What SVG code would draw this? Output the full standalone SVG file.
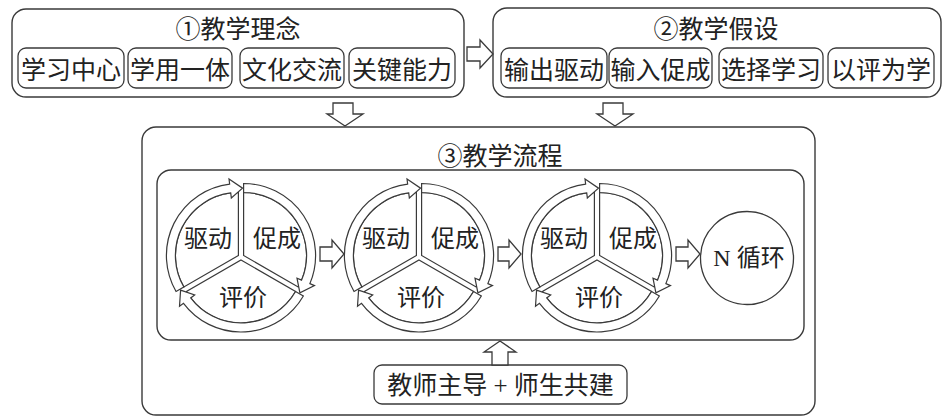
<svg xmlns="http://www.w3.org/2000/svg" width="945" height="417" viewBox="0 0 945 417">
<style>
.box{fill:#fff;stroke:#3a3a3a;stroke-width:1.4}
.sb{fill:#fff;stroke:#3a3a3a;stroke-width:1.3}
.ln{fill:#fff;stroke:#3a3a3a;stroke-width:1.2;stroke-linejoin:miter}
.t{font-family:"Liberation Serif","Noto Sans CJK SC",serif;font-size:25px;fill:#222;text-anchor:middle}
.s{font-size:24px}
.cj{font-family:"Noto Sans CJK SC",sans-serif}
.arr{fill:#fff;stroke:#3a3a3a;stroke-width:1.3;stroke-linejoin:miter}
</style>
<defs>
<g id="cyc">
<path class="ln" d="M -2.60,-1.50 L -57.16,30.00 A 63 63 0 0 1 -2.60,-64.50 Z"/>
<path class="ln" d="M 2.60,-1.50 L 2.60,-64.50 A 63 63 0 0 1 57.16,30.00 Z"/>
<path class="ln" d="M 0,3 L 54.56,34.50 A 63 63 0 0 1 -54.56,34.50 Z"/>
<path class="ln" d="M -64.95,34.50 A 72 72 0 0 1 -11.37,-72.96 L -11.98,-77.93 L 1.52,-68.87 L -9.67,-59.07 L -10.28,-64.03 A 63 63 0 0 0 -57.16,30.00 Z"/>
<path class="ln" d="M 2.60,-73.50 A 72 72 0 0 1 68.87,26.63 L 73.48,28.59 L 58.89,35.76 L 55.99,21.16 L 60.59,23.12 A 63 63 0 0 0 2.60,-64.50 Z"/>
<path class="ln" d="M 62.35,39.00 A 72 72 0 0 1 -57.50,46.33 L -61.50,49.34 L -60.41,33.12 L -46.32,37.91 L -50.31,40.91 A 63 63 0 0 0 54.56,34.50 Z"/>
</g>
</defs>
<rect width="945" height="417" fill="#fff"/>

<g id="concept">
<rect class="box" x="12" y="9" width="452" height="88" rx="14"/>
<text class="t" x="238" y="37.5"><tspan class="cj">①</tspan>教学理念</text>
</g>
<g id="c1"><rect class="sb" x="18" y="48" width="106" height="40" rx="8"/><text class="t" x="71" y="79">学习中心</text></g>
<g id="c2"><rect class="sb" x="128" y="48" width="104" height="40" rx="8"/><text class="t" x="180" y="79">学用一体</text></g>
<g id="c3"><rect class="sb" x="240" y="48" width="104" height="40" rx="8"/><text class="t" x="292" y="79">文化交流</text></g>
<g id="c4"><rect class="sb" x="349" y="48" width="106" height="40" rx="8"/><text class="t" x="402" y="79">关键能力</text></g>

<g id="hypothesis">
<rect class="box" x="493" y="8" width="448" height="89" rx="14"/>
<text class="t" x="716" y="37.5"><tspan class="cj">②</tspan>教学假设</text>
</g>
<g id="h1"><rect class="sb" x="501" y="48" width="106" height="40" rx="8"/><text class="t" x="554" y="79">输出驱动</text></g>
<g id="h2"><rect class="sb" x="609" y="48" width="103" height="40" rx="8"/><text class="t" x="660.5" y="79">输入促成</text></g>
<g id="h3"><rect class="sb" x="719" y="48" width="104" height="40" rx="8"/><text class="t" x="771" y="79">选择学习</text></g>
<g id="h4"><rect class="sb" x="828" y="48" width="106" height="40" rx="8"/><text class="t" x="881" y="79">以评为学</text></g>

<g id="process">
<rect class="box" x="142" y="127" width="673" height="288" rx="14"/>
<text class="t" x="500" y="165"><tspan class="cj">③</tspan>教学流程</text>
</g>
<g id="flow">
<rect class="box" x="157" y="170" width="647" height="170" rx="14"/>
</g>

<g id="cycle1">
<use href="#cyc" transform="translate(241,257)"/>
<text class="t s" x="208" y="247">驱动</text>
<text class="t s" x="277" y="247">促成</text>
<text class="t s" x="243" y="306">评价</text>
</g>
<g id="cycle2">
<use href="#cyc" transform="translate(419,257)"/>
<text class="t s" x="386" y="247">驱动</text>
<text class="t s" x="455" y="247">促成</text>
<text class="t s" x="421" y="306">评价</text>
</g>
<g id="cycle3">
<use href="#cyc" transform="translate(597,257)"/>
<text class="t s" x="564" y="247">驱动</text>
<text class="t s" x="633" y="247">促成</text>
<text class="t s" x="599" y="306">评价</text>
</g>
<g id="ncycle">
<circle class="sb" cx="747" cy="258" r="46.5"/>
<text class="t s" x="749" y="266">N 循环</text>
</g>

<g id="teacher">
<rect class="sb" x="374" y="365" width="253" height="39" rx="8"/>
<text class="t" x="500.5" y="394">教师主导 + 师生共建</text>
</g>

<g id="connectors">
<path class="arr" d="M 467,47 H 480 V 40 L 493,54 L 480,68 V 61 H 467 Z"/>
<path class="arr" d="M 333,103 H 353 V 114 H 363 L 345,126 L 327,114 H 333 Z"/>
<path class="arr" d="M 603,103 H 623 V 114 H 633 L 615,126 L 597,114 H 603 Z"/>
<path class="arr" d="M 320,247 H 332 V 240 L 344,254 L 332,268 V 261 H 320 Z"/>
<path class="arr" d="M 498,247 H 509 V 240 L 521,254 L 509,268 V 261 H 498 Z"/>
<path class="arr" d="M 676,247 H 688 V 240 L 700,254 L 688,268 V 261 H 676 Z"/>
<path class="arr" d="M 492,365 V 352 H 484 L 500,341 L 516,352 H 508 V 365 Z"/>
</g>
</svg>
